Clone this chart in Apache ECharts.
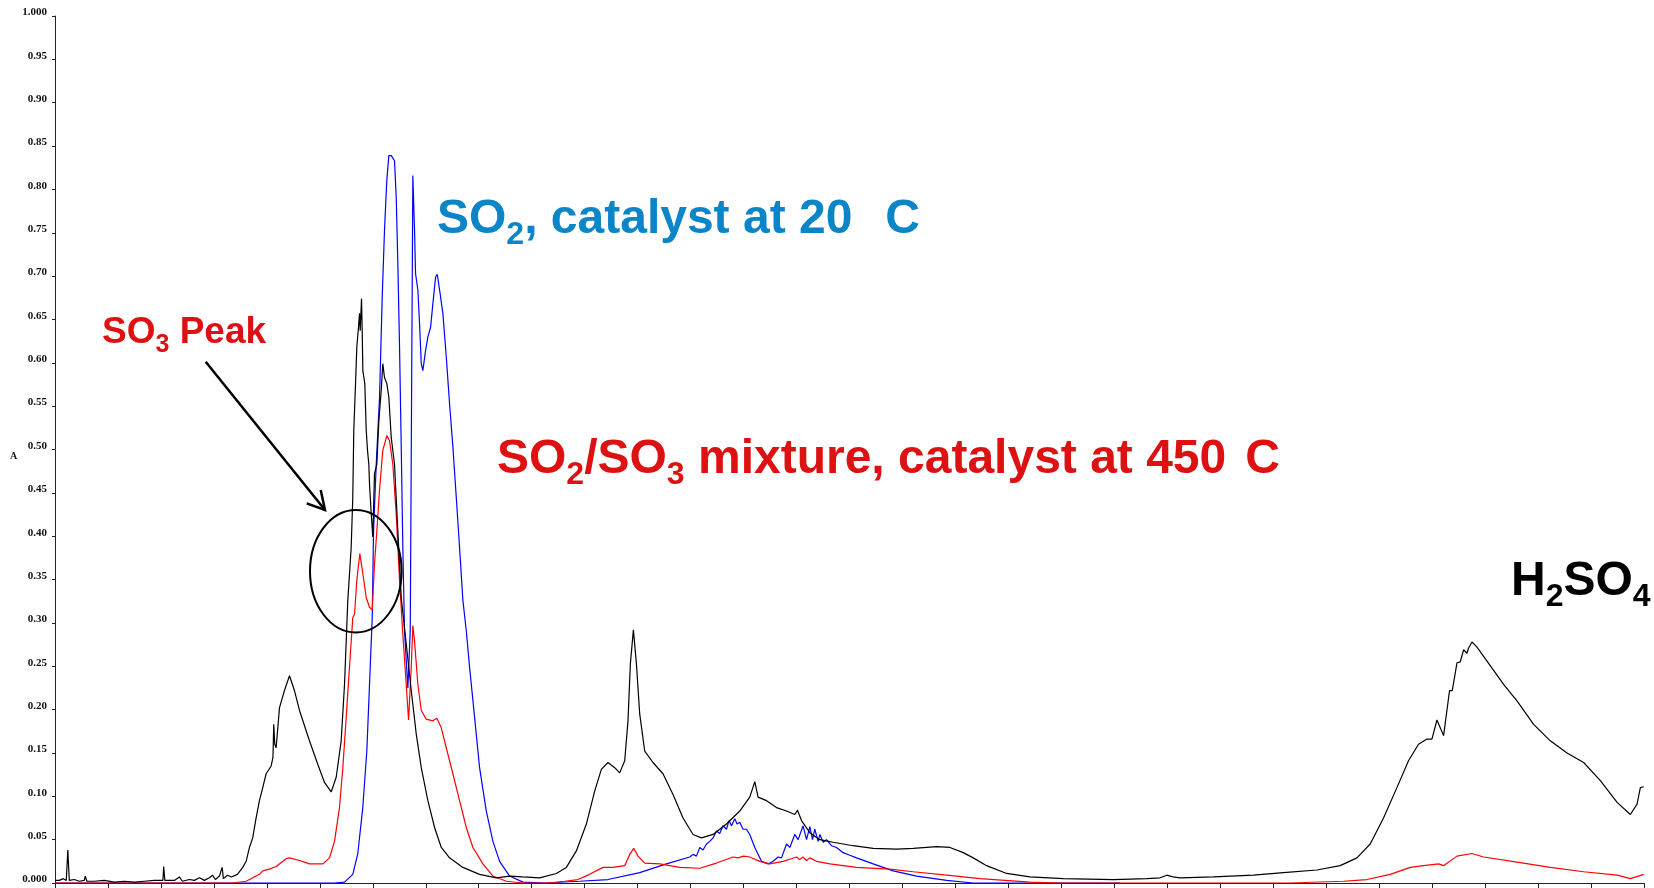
<!DOCTYPE html>
<html>
<head>
<meta charset="utf-8">
<script src="https://cdn.jsdelivr.net/npm/echarts@6/dist/echarts.min.js"></script>
<style>
html,body{margin:0;padding:0;background:#fff;}
#chart{width:1654px;height:888px;}
</style>
</head>
<body>
<div id="chart"></div>
<script>
// x axis: arbitrary units, one unit per tick (31 ticks, no labels); y: absorbance A
const xTicks = {min: 0, max: 30, interval: 1};
const yTicks = {min: 0, max: 1, interval: 0.05};
const yAxisName = 'A';

// Black trace (H2SO4)
const blackSeries = [
[0,0.003],[0.081,0.003],[0.157,0.005],[0.213,0.003],[0.242,0.038],[0.27,0.003],[0.365,0.004],[0.459,0.002],
[0.553,0.003],[0.572,0.008],[0.601,0.002],[0.742,0.002],[0.931,0.003],[1.12,0.001],[1.309,0.002],[1.498,0.001],
[1.687,0.002],[1.876,0.003],[2.037,0.003],[2.052,0.019],[2.074,0.003],[2.254,0.003],[2.348,0.007],[2.405,0.002],
[2.537,0.004],[2.632,0.003],[2.726,0.006],[2.82,0.003],[2.915,0.006],[2.972,0.009],[3.029,0.004],[3.104,0.008],
[3.155,0.018],[3.18,0.005],[3.255,0.009],[3.331,0.007],[3.444,0.01],[3.544,0.018],[3.609,0.025],[3.671,0.041],
[3.733,0.052],[3.797,0.075],[3.86,0.095],[3.922,0.11],[3.986,0.126],[4.081,0.135],[4.115,0.145],[4.13,0.183],
[4.149,0.16],[4.175,0.156],[4.238,0.202],[4.332,0.222],[4.427,0.239],[4.521,0.222],[4.616,0.199],[4.804,0.164],
[4.961,0.137],[5.088,0.116],[5.214,0.105],[5.309,0.122],[5.403,0.164],[5.466,0.229],[5.528,0.326],[5.592,0.387],
[5.622,0.445],[5.641,0.522],[5.674,0.576],[5.698,0.618],[5.73,0.641],[5.749,0.657],[5.762,0.637],[5.787,0.674],
[5.8,0.637],[5.812,0.591],[5.849,0.576],[5.876,0.522],[5.9,0.499],[5.925,0.483],[5.938,0.46],[5.97,0.426],
[6.0,0.399],[6.032,0.472],[6.076,0.483],[6.114,0.533],[6.159,0.568],[6.189,0.599],[6.221,0.583],[6.265,0.576],
[6.303,0.56],[6.348,0.514],[6.41,0.483],[6.473,0.406],[6.537,0.329],[6.631,0.276],[6.726,0.222],[6.82,0.172],
[6.915,0.133],[7.04,0.095],[7.166,0.064],[7.293,0.041],[7.449,0.029],[7.701,0.018],[8.016,0.01],[8.332,0.006],
[8.583,0.008],[8.829,0.007],[9.15,0.006],[9.465,0.011],[9.654,0.018],[9.843,0.037],[10.032,0.068],[10.189,0.106],
[10.315,0.131],[10.44,0.139],[10.567,0.133],[10.661,0.127],[10.756,0.141],[10.818,0.187],[10.863,0.253],[10.92,0.292],
[10.977,0.253],[11.039,0.195],[11.134,0.152],[11.29,0.139],[11.479,0.126],[11.668,0.102],[11.857,0.075],[12.046,0.056],
[12.205,0.052],[12.424,0.056],[12.677,0.068],[12.928,0.083],[13.117,0.099],[13.212,0.117],[13.274,0.099],[13.433,0.095],
[13.622,0.087],[13.811,0.083],[13.967,0.079],[14.018,0.084],[14.094,0.072],[14.251,0.058],[14.44,0.05],[14.691,0.047],
[15.069,0.043],[15.447,0.04],[15.889,0.039],[16.203,0.04],[16.645,0.042],[16.896,0.041],[17.147,0.035],[17.336,0.029],
[17.589,0.02],[17.967,0.011],[18.407,0.007],[19.037,0.005],[19.981,0.004],[20.612,0.005],[20.864,0.006],[20.99,0.009],
[21.109,0.007],[21.241,0.006],[21.871,0.007],[22.626,0.009],[23.193,0.012],[23.824,0.015],[24.264,0.02],[24.58,0.029],
[24.831,0.045],[25.082,0.075],[25.335,0.11],[25.554,0.141],[25.743,0.16],[25.902,0.166],[25.996,0.166],[26.091,0.188],
[26.216,0.17],[26.329,0.222],[26.38,0.222],[26.469,0.254],[26.531,0.255],[26.594,0.269],[26.658,0.265],[26.688,0.271],
[26.752,0.278],[26.847,0.272],[27.036,0.256],[27.349,0.229],[27.602,0.21],[27.916,0.183],[28.231,0.164],[28.547,0.15],
[28.861,0.139],[29.176,0.118],[29.492,0.093],[29.743,0.079],[29.869,0.091],[29.931,0.11],[29.994,0.111]
];

// Red trace (SO2/SO3 mixture, catalyst at 450 C)
const redSeries = [
[0,0],[3.35,0],[3.609,0.002],[3.86,0.01],[3.922,0.014],[4.049,0.016],[4.175,0.019],[4.364,0.028],[4.427,0.029],
[4.616,0.026],[4.804,0.022],[5.056,0.022],[5.182,0.029],[5.277,0.048],[5.371,0.087],[5.434,0.133],[5.498,0.191],
[5.56,0.249],[5.622,0.306],[5.655,0.31],[5.698,0.349],[5.755,0.38],[5.812,0.357],[5.876,0.329],[5.938,0.318],
[5.989,0.315],[6.032,0.368],[6.076,0.406],[6.127,0.453],[6.189,0.499],[6.265,0.516],[6.316,0.51],[6.378,0.483],
[6.442,0.426],[6.505,0.349],[6.567,0.287],[6.631,0.229],[6.675,0.188],[6.726,0.249],[6.756,0.297],[6.788,0.279],
[6.851,0.229],[6.915,0.199],[7.009,0.189],[7.134,0.187],[7.21,0.19],[7.293,0.179],[7.387,0.156],[7.512,0.126],
[7.638,0.095],[7.765,0.064],[7.89,0.041],[8.079,0.022],[8.268,0.008],[8.521,0.002],[8.834,0],[9.339,0],
[9.622,0.002],[9.873,0.004],[10.094,0.01],[10.346,0.018],[10.535,0.018],[10.756,0.02],[10.851,0.033],[10.926,0.04],
[11.007,0.031],[11.134,0.023],[11.418,0.022],[11.795,0.018],[12.173,0.017],[12.488,0.023],[12.802,0.03],[12.9,0.029],
[13.0,0.031],[13.117,0.03],[13.306,0.025],[13.495,0.022],[13.746,0.025],[13.9,0.028],[14.0,0.03],[14.06,0.027],
[14.12,0.03],[14.189,0.026],[14.25,0.029],[14.378,0.025],[14.629,0.022],[15.133,0.018],[15.762,0.016],[16.203,0.013],
[16.834,0.009],[17.463,0.005],[18.407,0.001],[18.974,0],[23.319,0],[24.326,0.002],[24.769,0.004],[25.209,0.01],
[25.587,0.018],[25.838,0.02],[26.122,0.022],[26.216,0.02],[26.469,0.031],[26.752,0.034],[26.971,0.03],[27.602,0.024],
[28.231,0.018],[28.861,0.013],[29.492,0.009],[29.743,0.005],[29.994,0.01]
];

// Blue trace (SO2, catalyst at 20 C)
const blueSeries = [
[0,0],[5.277,0],[5.466,0.001],[5.622,0.01],[5.717,0.034],[5.811,0.087],[5.887,0.152],[5.938,0.229],[5.989,0.306],
[6.014,0.406],[6.065,0.483],[6.127,0.56],[6.178,0.676],[6.221,0.753],[6.265,0.811],[6.303,0.839],[6.348,0.839],
[6.41,0.833],[6.442,0.791],[6.473,0.714],[6.505,0.618],[6.537,0.503],[6.567,0.387],[6.599,0.291],[6.662,0.225],
[6.707,0.291],[6.732,0.56],[6.756,0.816],[6.788,0.753],[6.807,0.703],[6.851,0.684],[6.883,0.645],[6.915,0.599],
[6.945,0.591],[6.996,0.614],[7.04,0.63],[7.091,0.641],[7.134,0.668],[7.185,0.699],[7.217,0.702],[7.261,0.684],
[7.323,0.657],[7.387,0.607],[7.449,0.553],[7.512,0.503],[7.576,0.445],[7.638,0.387],[7.701,0.326],[7.765,0.291],
[7.827,0.249],[7.922,0.191],[8.016,0.133],[8.143,0.083],[8.268,0.048],[8.394,0.025],[8.583,0.008],[8.834,0.001],
[9.244,0],[9.905,0.002],[10.44,0.004],[11.039,0.012],[11.543,0.022],[11.984,0.03],[12.046,0.033],[12.11,0.031],
[12.173,0.041],[12.235,0.038],[12.299,0.045],[12.361,0.048],[12.424,0.052],[12.488,0.06],[12.55,0.057],[12.613,0.066],
[12.677,0.062],[12.726,0.072],[12.772,0.066],[12.834,0.074],[12.878,0.068],[12.928,0.07],[12.991,0.062],[13.055,0.062],
[13.117,0.056],[13.212,0.041],[13.338,0.025],[13.463,0.022],[13.557,0.025],[13.652,0.03],[13.716,0.029],[13.811,0.045],
[13.873,0.041],[13.967,0.056],[14.03,0.05],[14.124,0.066],[14.189,0.05],[14.251,0.065],[14.302,0.05],[14.345,0.062],
[14.408,0.048],[14.44,0.056],[14.502,0.047],[14.566,0.05],[14.66,0.043],[14.755,0.041],[14.88,0.035],[15.006,0.032],
[15.133,0.029],[15.447,0.022],[15.825,0.014],[16.267,0.008],[16.834,0.003],[17.336,0],[20.107,0]
];

// Annotation texts
const blueLabelParts = ['SO', {sub: '2'}, ', catalyst at 20', {gap: 33}, 'C'];
const redLabelParts = ['SO', {sub: '2'}, '/SO', {sub: '3'}, ' mixture, catalyst at 450', {gap: 19}, 'C'];
const peakLabelParts = ['SO', {sub: '3'}, ' Peak'];
const acidLabelParts = ['H', {sub: '2'}, 'SO', {sub: '4'}];

const FONT_FAMILY = '"Liberation Sans", Arial, sans-serif';
const SERIF = '"Liberation Serif", "Times New Roman", serif';
const measureCtx = document.createElement('canvas').getContext('2d');

function buildLabel(parts, x, baseline, size, subSize, subDrop, color) {
  const els = [];
  let cx = x;
  parts.forEach(p => {
    if (typeof p === 'object' && p.gap) { cx += p.gap; return; }
    const isSub = typeof p === 'object';
    const txt = isSub ? p.sub : p;
    const fs = isSub ? subSize : size;
    const font = 'bold ' + fs + 'px ' + FONT_FAMILY;
    measureCtx.font = font;
    const w = measureCtx.measureText(txt).width;
    const by = baseline + (isSub ? subDrop : 0);
    els.push({
      type: 'text', x: cx, y: by - 0.3465 * fs, silent: true, z: 100,
      style: {text: txt, font: font, fill: color, align: 'left', verticalAlign: 'middle'}
    });
    cx += w;
  });
  return els;
}

const graphics = []
  .concat(buildLabel(blueLabelParts, 437, 236, 48, 32, 10, '#0a86c8'))
  .concat(buildLabel(redLabelParts, 497, 476, 48, 32, 10, '#dd1111'))
  .concat(buildLabel(peakLabelParts, 102, 346, 37, 25, 8, '#dd1111'))
  .concat(buildLabel(acidLabelParts, 1511, 598, 48, 32, 10, '#000000'));

// y axis name "A"
graphics.push({type: 'text', x: 10, y: 456, silent: true, z: 100,
  style: {text: yAxisName, font: 'bold 10px ' + SERIF, fill: '#111', align: 'left', verticalAlign: 'middle'}});

// circle around SO3 peak and arrow
graphics.push({type: 'ellipse', z: 100, silent: true,
  shape: {cx: 355.8, cy: 571.2, rx: 45.8, ry: 61.2},
  style: {fill: null, stroke: '#000', lineWidth: 2}});
graphics.push({type: 'line', z: 100, silent: true,
  shape: {x1: 205.7, y1: 361.8, x2: 325, y2: 510},
  style: {stroke: '#000', lineWidth: 2.5}});
graphics.push({type: 'polyline', z: 100, silent: true,
  shape: {points: [[306.7, 503.3], [325, 510], [320.7, 490]]},
  style: {stroke: '#000', lineWidth: 2.5, fill: null}});

const chart = echarts.init(document.getElementById('chart'), null, {renderer: 'canvas'});
chart.setOption({
  animation: false,
  backgroundColor: '#fff',
  grid: {left: 55, right: 10, top: 16, bottom: 5, containLabel: false},
  xAxis: {
    type: 'value', min: xTicks.min, max: xTicks.max, interval: xTicks.interval,
    axisLine: {show: true, onZero: false, lineStyle: {color: '#222', width: 1}},
    axisTick: {show: true, inside: false, length: 5, lineStyle: {color: '#222'}},
    axisLabel: {show: false},
    splitLine: {show: false}
  },
  yAxis: {
    type: 'value', min: yTicks.min, max: yTicks.max, interval: yTicks.interval,
    axisLine: {show: true, lineStyle: {color: '#222', width: 1}},
    axisTick: {show: true, inside: false, length: 3, lineStyle: {color: '#222'}},
    axisLabel: {
      fontFamily: SERIF, fontWeight: 'bold', fontSize: 11, color: '#111',
      margin: 8, verticalAlign: 'bottom', lineHeight: 7,
      formatter: v => (v === 0 ? '0.000' : (Math.abs(v - 1) < 1e-9 ? '1.000' : v.toFixed(2)))
    },
    splitLine: {show: false}
  },
  series: [
    {name: 'SO2, catalyst at 20 C', type: 'line', data: blueSeries, showSymbol: false, symbol: 'none',
     lineStyle: {color: '#0000ff', width: 1.2}, itemStyle: {color: '#0000ff'}, z: 2},
    {name: 'SO2/SO3 mixture, catalyst at 450 C', type: 'line', data: redSeries, showSymbol: false, symbol: 'none',
     lineStyle: {color: '#ff0000', width: 1.2}, itemStyle: {color: '#ff0000'}, z: 3},
    {name: 'H2SO4', type: 'line', data: blackSeries, showSymbol: false, symbol: 'none',
     lineStyle: {color: '#000000', width: 1.2}, itemStyle: {color: '#000000'}, z: 4}
  ],
  graphic: graphics
});
</script>
</body>
</html>
